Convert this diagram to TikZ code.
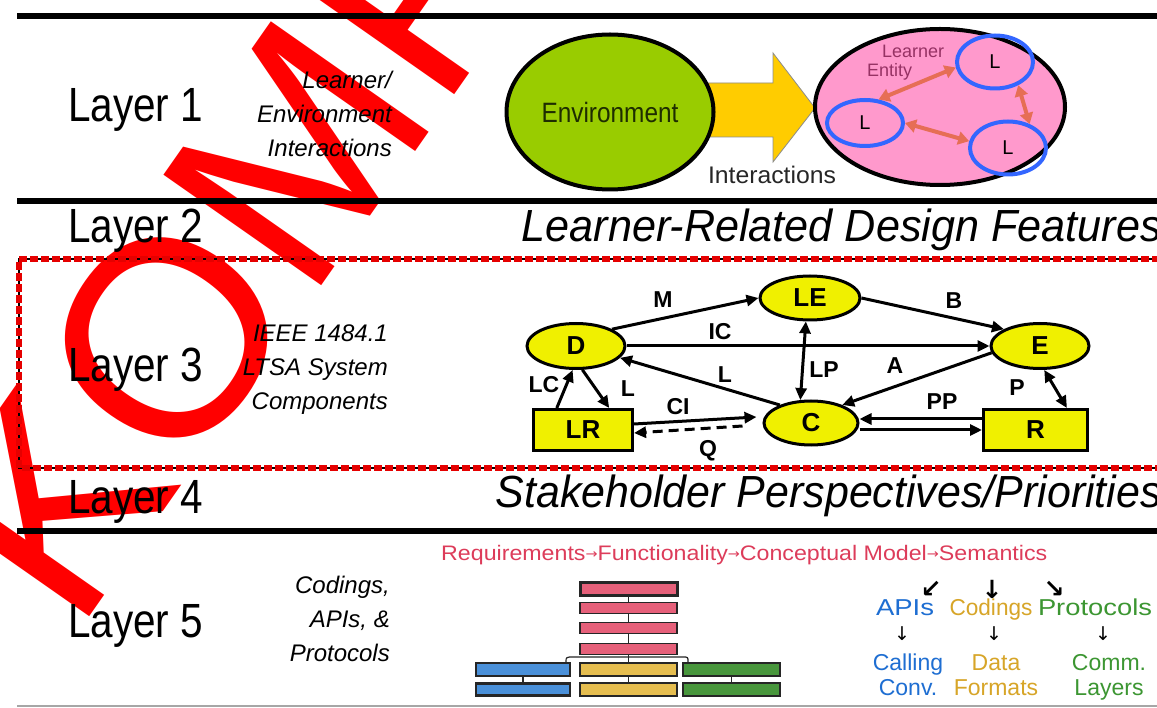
\documentclass[tikz,border=0pt]{standalone}
\usepackage{graphicx}
\usepackage{fontspec}
\setmainfont{Liberation Sans}
\newfontfamily\arrowfont{DejaVu Sans}
\usetikzlibrary{arrows.meta,shapes.geometric}

\newcommand\fs[1]{\fontsize{#1}{#1}\selectfont}
\newcommand\fitw[2]{\resizebox{#1pt}{\height}{#2}}
\newcommand\rlines[1]{\begin{tabular}[t]{@{}r@{}}#1\end{tabular}}
\newcommand\clines[1]{\begin{tabular}[t]{@{}c@{}}#1\end{tabular}}
\newcommand\sarr{{\arrowfont\fs{13}\raisebox{2pt}{→}}}

\definecolor{envgreen}{RGB}{153,204,0}
\definecolor{envtext}{RGB}{30,45,0}
\definecolor{arrowgold}{RGB}{255,204,0}
\definecolor{entpink}{RGB}{255,153,204}
\definecolor{lblue}{RGB}{51,102,255}
\definecolor{coral}{RGB}{230,110,85}
\definecolor{plum}{RGB}{150,50,100}
\definecolor{ltsa}{RGB}{240,240,0}
\definecolor{reqred}{RGB}{221,60,90}
\definecolor{brickred}{RGB}{230,96,122}
\definecolor{brickblue}{RGB}{74,144,217}
\definecolor{brickgold}{RGB}{230,190,80}
\definecolor{brickgreen}{RGB}{72,150,60}
\definecolor{apiblue}{RGB}{30,110,210}
\definecolor{codgold}{RGB}{215,165,40}
\definecolor{protgreen}{RGB}{60,150,50}

\begin{document}
\begin{tikzpicture}[x=1pt,y=-1pt,
  rule/.style={line width=6pt},
  layer/.style={anchor=base west, inner sep=0pt, font=\fs{48}},
  sidenote/.style={anchor=base east, inner sep=0pt, font=\itshape\fontsize{24}{34}\selectfont},
  heading/.style={anchor=base east, inner sep=0pt, font=\itshape\fs{45}},
  comp/.style={ellipse, draw, line width=3pt, fill=ltsa, inner sep=0pt, font=\bfseries\fs{26}},
  store/.style={rectangle, draw, line width=3pt, fill=ltsa, inner sep=0pt, font=\bfseries\fs{26}},
  flow/.style={line width=3pt, -{Triangle[length=12pt,width=11pt]}},
  flow2/.style={line width=3pt, {Triangle[length=12pt,width=11pt]}-{Triangle[length=12pt,width=11pt]}},
  flowlbl/.style={inner sep=0pt, font=\bfseries\fs{23}},
  learner/.style={ellipse, draw=lblue, line width=4pt, inner sep=0pt, minimum width=76pt, font=\fs{20}},
  pal/.style={draw=coral, line width=4pt, {Triangle[length=11pt,width=13pt]}-{Triangle[length=11pt,width=13pt]}},
  brick/.style={rectangle, draw=black!85, line width=1.6pt, inner sep=0pt},
  link/.style={draw=black!85, line width=1.2pt},
  colword/.style={anchor=base, inner sep=0pt, font=\fontsize{23}{25}\selectfont},
  dir/.style={inner sep=0pt, font=\arrowfont\fs{19}},
  bigdir/.style={inner sep=0pt, font=\arrowfont\bfseries\fs{25}}
]
\useasboundingbox (0,0) rectangle (1157,708);
\clip (0,0) rectangle (1157,708);
\fill[white] (0,0) rectangle (1157,708);

% stamp behind everything
\node[text=red, font=\fs{280}, inner sep=0pt, anchor=base west, rotate=55] (stamp) at (76,636) {KOMP};

% layer rules
\draw[rule] (17,16) -- (1157,16);
\draw[rule] (17,201) -- (1157,201);
\draw[rule] (17,531) -- (1157,531);
\draw[line width=1.5pt, black!35] (17,706) -- (1157,706);

% dashed frame round layer 3
\draw[line width=2pt, black] (1160,259) -- (19,259) -- (19,468) -- (1160,468);
\draw[line width=6pt, red!90!black, dash pattern=on 8pt off 3pt] (1160,259) -- (19,259) -- (19,468) -- (1160,468);

% layer names
\node[layer] (lay1) at (68,122) {\fitw{135}{Layer 1}};
\node[layer] (lay2) at (68,243) {\fitw{135}{Layer 2}};
\node[layer] (lay3) at (68,382) {\fitw{135}{Layer 3}};
\node[layer] (lay4) at (68,513) {\fitw{135}{Layer 4}};
\node[layer] (lay5) at (68,637) {\fitw{135}{Layer 5}};

\node[sidenote] (note1) at (392,89) {\rlines{Learner/\\Environment\\Interactions}};
\node[sidenote] (note3) at (388,342) {\rlines{IEEE 1484.1\\LTSA System\\Components}};
\node[sidenote] (note5) at (390,593) {\rlines{Codings,\\APIs, \&\\Protocols}};

\node[heading] (feat) at (1162,242) {\fitw{640}{Learner-Related Design Features}};
\node[heading] (stake) at (1162,507) {\fitw{666}{Stakeholder Perspectives/Priorities}};

% ---- layer 1: environment and learner entity
\draw[fill=arrowgold, draw=black!45, line width=0.8pt]
  (700,83) -- (773,83) -- (773,53) -- (815,108) -- (773,162) -- (773,137) -- (700,137) -- cycle;
\node[ellipse, draw, line width=4pt, fill=envgreen, minimum width=207pt, minimum height=155pt,
      inner sep=0pt, text=envtext, font=\fs{28}] (env) at (610,112) {\fitw{137}{Environment}};
\node[anchor=base, inner sep=0pt, font=\fs{24}, text=black!85] (intlbl) at (772,184) {\fitw{128}{Interactions}};
\node[ellipse, draw, line width=4pt, fill=entpink, minimum width=250pt, minimum height=156pt,
      inner sep=0pt] (ent) at (940,107) {};
\node[anchor=base west, inner sep=0pt, text=plum, font=\fontsize{18}{19}\selectfont] (entlbl) at (867,58)
  {\begin{tabular}[t]{@{}l@{}}\hspace*{15pt}Learner\\Entity\end{tabular}};
\node[learner, minimum height=53pt] (la) at (995,62) {L};
\node[learner, minimum height=46pt] (lb) at (865,123) {L};
\node[learner, minimum height=53pt] (lc) at (1008,148) {L};
\draw[pal] (lb.60) -- (la.188);
\draw[pal] (lb.east) -- (lc.170);
\draw[pal] (la.-45) -- (lc.48);

% ---- layer 3: LTSA components
\node[comp, minimum width=100pt, minimum height=44pt] (LE) at (810,298) {LE};
\node[comp, minimum width=98pt, minimum height=45pt] (D) at (576,346) {D};
\node[comp, minimum width=98pt, minimum height=45pt] (E) at (1040,346) {E};
\node[comp, minimum width=94pt, minimum height=44pt] (C) at (811,423) {C};
\node[store, minimum width=99pt, minimum height=41pt] (LR) at (583,430) {LR};
\node[store, minimum width=104pt, minimum height=41pt] (R) at (1035.5,430) {R};

\draw[flow] (D.25) -- (LE.west);
\draw[flow] (LE.east) -- (E.155);
\draw[flow] (D.east) -- (E.west);
\draw[flow2] (LE.260) -- (C.115);
\draw[flow] (C.150) -- (D.-15);
\draw[flow] (E.188) -- (C.30);
\draw[flow] (LR.140) -- (D.262);
\draw[flow] (D.285) -- (LR.40);
\draw[flow] ([yshift=6pt]LR.east) -- ([xshift=-6pt,yshift=6pt]C.west);
\draw[flow, dash pattern=on 10pt off 6pt] ([xshift=-20pt,yshift=-3pt]C.west) -- ([yshift=-3pt]LR.east);
\draw[flow] ([yshift=11pt]R.west) -- ([yshift=4pt]C.east);
\draw[flow] ([yshift=-7pt]C.east) -- (R.west);
\draw[flow2] (E.280) -- (R.35);

\node[flowlbl] (lM) at (663,300) {M};
\node[flowlbl] (lB) at (954,301) {B};
\node[flowlbl] (lIC) at (720,332) {IC};
\node[flowlbl] (lLP) at (824,370) {LP};
\node[flowlbl] (lA) at (895,366) {A};
\node[flowlbl] (lL) at (725,375) {L};
\node[flowlbl] (lLC) at (544,385) {LC};
\node[flowlbl] (lL2) at (628,389) {L};
\node[flowlbl] (lCI) at (678,407) {CI};
\node[flowlbl] (lQ) at (708,451) {Q};
\node[flowlbl] (lPP) at (942,402) {PP};
\node[flowlbl] (lP) at (1017,388) {P};

% ---- layer 5: codings, APIs and protocols
\node[anchor=base west, inner sep=0pt, text=reqred, font=\fs{21}] (req) at (441,560)
  {\fitw{606}{Requirements\sarr Functionality\sarr Conceptual Model\sarr Semantics}};

\node[brick, fill=brickred, line width=3pt, minimum width=97pt, minimum height=13pt] (r1) at (628.5,588.5) {};
\node[brick, fill=brickred, minimum width=97pt, minimum height=11pt] (r2) at (628.5,608) {};
\node[brick, fill=brickred, minimum width=97pt, minimum height=11pt] (r3) at (628.5,628) {};
\node[brick, fill=brickred, minimum width=97pt, minimum height=11pt] (r4) at (628.5,649) {};
\node[brick, fill=brickblue, minimum width=94pt, minimum height=13pt] (b1) at (523,669.5) {};
\node[brick, fill=brickblue, line width=2.6pt, minimum width=94pt, minimum height=12pt] (b2) at (523,689.5) {};
\node[brick, fill=brickgold, minimum width=97pt, minimum height=13pt] (y1) at (628.5,669.5) {};
\node[brick, fill=brickgold, minimum width=97pt, minimum height=13pt] (y2) at (628.5,689.5) {};
\node[brick, fill=brickgreen, minimum width=97pt, minimum height=13pt] (g1) at (731.5,669.5) {};
\node[brick, fill=brickgreen, minimum width=97pt, minimum height=13pt] (g2) at (731.5,689.5) {};
\draw[link] (r1.south) -- (r2.north);
\draw[link] (r2.south) -- (r3.north);
\draw[link] (r3.south) -- (r4.north);
\draw[link] (r4.south) -- (y1.north);
\draw[link] (y1.south) -- (y2.north);
\draw[link] (b1.south) -- (b2.north);
\draw[link] (g1.south) -- (g2.north);
\draw[link] (566,662) .. controls (566,657) .. (574,657) -- (683,657) .. controls (688,657) .. (688,662);

\node[bigdir] (toapi) at (931,589) {↙};
\node[bigdir] (tocod) at (992,589) {↓};
\node[bigdir] (toprot) at (1054,589) {↘};

\node[colword, text=apiblue] (apis) at (905,615) {\fitw{58}{APIs}};
\node[colword, text=codgold] (cods) at (991,615) {\fitw{83}{Codings}};
\node[colword, text=protgreen] (prots) at (1095,615) {\fitw{114}{Protocols}};

\node[dir] (d1) at (902,634) {↓};
\node[dir] (d2) at (994,634) {↓};
\node[dir] (d3) at (1103,634) {↓};

\node[colword, text=apiblue] (calls) at (908,670) {\clines{Calling\\Conv.}};
\node[colword, text=codgold] (fmts) at (996,670) {\clines{Data\\Formats}};
\node[colword, text=protgreen] (comms) at (1109,670) {\clines{Comm.\\Layers}};
\end{tikzpicture}
\end{document}
